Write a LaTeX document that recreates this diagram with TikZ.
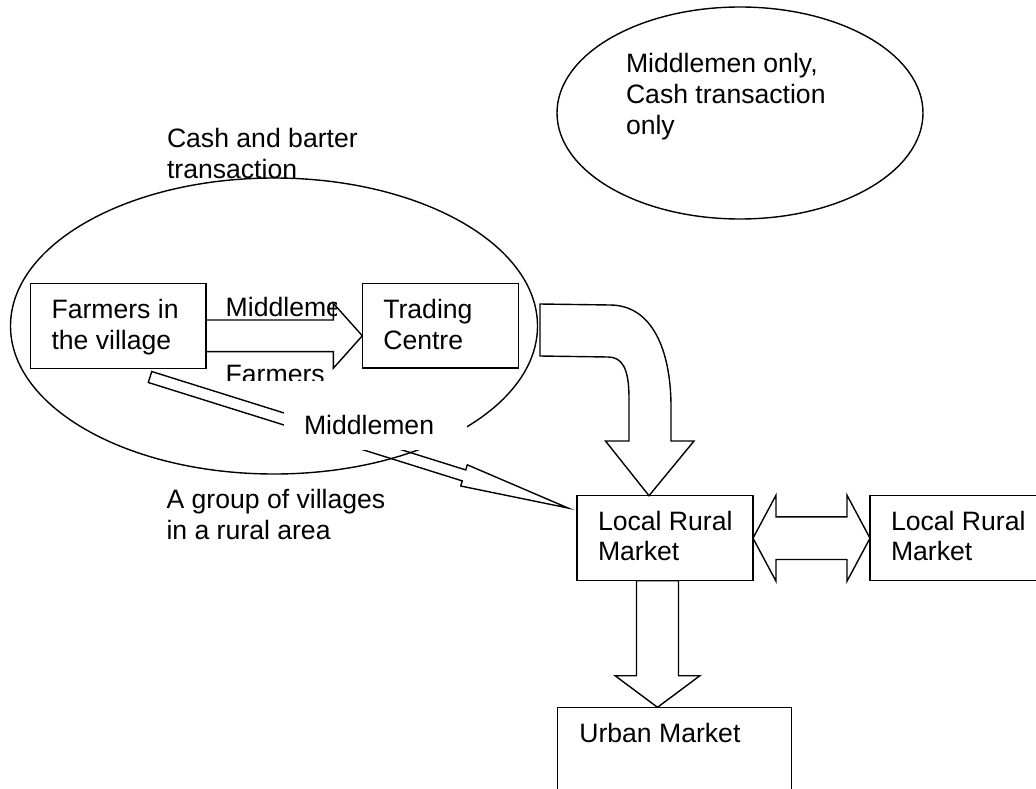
\documentclass[tikz,border=0pt]{standalone}
\usepackage{fontspec}
\setmainfont{Liberation Sans}
\usetikzlibrary{calc,shapes.geometric}
\newcommand\straightblock[5]{%
  \path ($(#2)!#5!(#1)$) coordinate (hb);
  \draw[blockarrow] ($(#1)!#3!90:(#2)$) -- ($(hb)!#3!90:(#2)$) -- ($(hb)!#4!90:(#2)$) -- (#2)
    -- ($(hb)!#4!-90:(#2)$) -- ($(hb)!#3!-90:(#2)$) -- ($(#1)!#3!-90:(#2)$) -- cycle;
}
\begin{document}
\begin{tikzpicture}[x=1pt,y=-1pt,
  box/.style={draw, line width=1.4pt, fill=white, rectangle, inner sep=0pt, outer sep=0pt, anchor=north west},
  oval/.style={draw, line width=1.4pt, ellipse, inner sep=0pt, outer sep=0pt},
  txt/.style={inner sep=0pt, outer sep=0pt, anchor=base west, font=\fontsize{26.6pt}{30.9pt}\selectfont},
  blockarrow/.style={draw, line width=1.4pt, line join=miter}
]
\useasboundingbox (0,0) rectangle (1036,789);
\clip (0,0) rectangle (1036,789);
\fill[white] (0,0) rectangle (1036,789);

% ellipses
\node[oval, minimum width=527pt, minimum height=296pt] (grp) at (274,326) {};
\node[oval, minimum width=366pt, minimum height=212pt] (mid) at (740,113) {};

% boxes
\node[box, minimum width=175.5pt, minimum height=85pt] (farm) at (30.5,283.3) {};
\node[box, minimum width=156pt, minimum height=84.5pt] (trade) at (362.3,283.3) {};
\node[box, minimum width=176pt, minimum height=85pt] (lrm) at (577,495.7) {};
\node[box, minimum width=200pt, minimum height=85pt] (lrm2) at (870,495.7) {};
\node[box, minimum width=234.2pt, minimum height=110pt] (urban) at (557.3,707.3) {};

% arrow farmers -> trading centre
\coordinate (a1s) at (farm.east |- 0,335.8);
\coordinate (a1e) at (trade.west |- 0,335.8);
\straightblock{a1s}{a1e}{15.8pt}{32.5pt}{29pt}

% diagonal arrow farmers -> local rural market
\coordinate (a2s) at (150,377);
\coordinate (a2e) at (568,508);
\straightblock{a2s}{a2e}{5.75pt}{11.1pt}{109pt}

% down arrow local rural market -> urban market
\coordinate (a3s) at (lrm.south -| 657.5,0);
\coordinate (a3e) at (urban.north -| 657.5,0);
\straightblock{a3s}{a3e}{21pt}{42.4pt}{31.6pt}

% double arrow between local rural markets
\draw[blockarrow] (lrm.east) -- ($(lrm.east)+(23,-43)$) -- ($(lrm.east)+(23,-21.3)$)
  -- ($(lrm2.west)+(-23,-21.3)$) -- ($(lrm2.west)+(-23,-43)$) -- (lrm2.west)
  -- ($(lrm2.west)+(-23,43)$) -- ($(lrm2.west)+(-23,21.3)$)
  -- ($(lrm.east)+(23,21.3)$) -- ($(lrm.east)+(23,43)$) -- cycle;

% curved arrow trading centre -> local rural market
\coordinate (a4tip) at (lrm.north -| 649,0);
\draw[blockarrow] (540,304) -- (610,305) .. controls (652,305) and (671,350) .. (671,407)
  -- (671,441) -- (694,441) -- (a4tip) -- (605.5,441) -- (629,441) -- (629,398)
  .. controls (629,368) and (622,357) .. (608,357) -- (540,356) -- cycle;

% texts
\node[txt] (tcash) at (167,148) {\vtop{\hbox{Cash and barter}\hbox{transaction}}};
\node[txt] (tmid) at (626,72.5) {\vtop{\hbox{Middlemen only,}\hbox{Cash transaction}\hbox{only}}};
\node[txt] (tfarm) at (51.5,318.3) {\vtop{\hbox{Farmers in}\hbox{the village}}};
\node[txt] (ttrade) at (383.3,318.3) {\vtop{\hbox{Trading}\hbox{Centre}}};
\node[txt] (tgroup) at (166.5,508.5) {\vtop{\hbox{A group of villages}\hbox{in a rural area}}};
\node[txt] (tlrm) at (598,530) {\vtop{\hbox{Local Rural}\hbox{Market}}};
\node[txt] (tlrm2) at (891,530) {\vtop{\hbox{Local Rural}\hbox{Market}}};
\node[txt] (turban) at (579.3,742.7) {Urban Market};

\begin{scope}
  \clip (220,290) rectangle (336.7,330);
  \node[txt] (tmidleme) at (225.7,316.7) {Middleme};
\end{scope}
\begin{scope}
  \clip (220,355) rectangle (340,380);
  \node[txt] (tfarmers) at (225.7,383) {Farmers};
\end{scope}

% Middlemen label on white
\fill[white] (284,400) rectangle (467,450);
\node[txt] (tmiddlemen) at (304,434) {Middlemen};
\end{tikzpicture}
\end{document}
